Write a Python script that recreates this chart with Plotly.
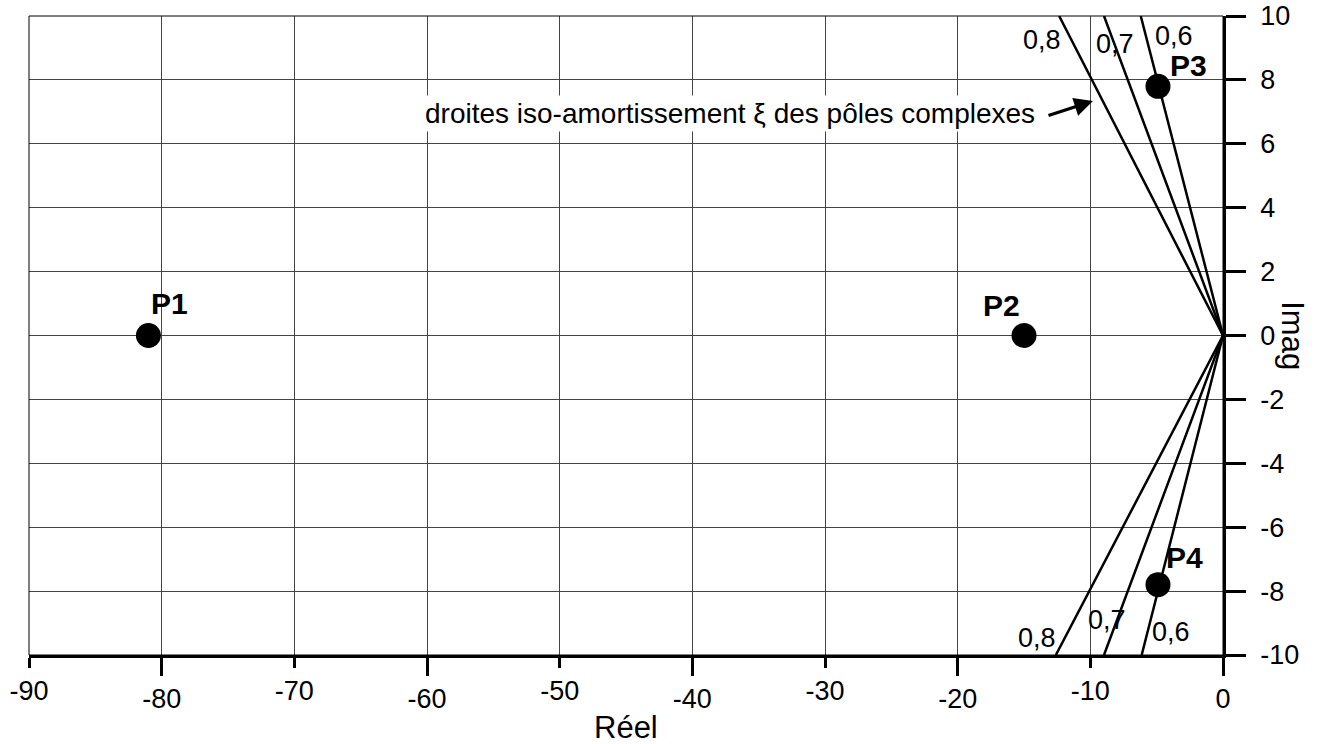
import plotly.graph_objects as go

# ---- data ----
pole_names = ["P1", "P2", "P3", "P4"]
pole_re = [-81.0, -15.0, -4.9, -4.9]
pole_im = [0.0, 0.0, 7.8, -7.8]

xi_labels = ["0,8", "0,7", "0,6"]
xi_top_re = [-12.35, -8.97, -6.2]      # real part where each iso-damping line meets Im = +10
xi_bot_re = [-12.6, -8.97, -6.13]      # real part where each iso-damping line meets Im = -10
xi_im_edge = 10.0

x_ticks_a = [-90, -70, -50, -30, -10]
x_text_a = ["-90", "-70", "-50", "-30", "-10"]
x_ticks_b = [-80, -60, -40, -20, 0]
x_text_b = ["-80", "-60", "-40", "-20", "0"]
y_ticks = [-10, -8, -6, -4, -2, 0, 2, 4, 6, 8, 10]
y_text = ["-10", "-8", "-6", "-4", "-2", "0", "2", "4", "6", "8", "10"]

annot_text = "droites iso-amortissement \u03be des pôles complexes"

FONT = "Liberation Sans, Arial, sans-serif"
GRID = "#444444"

fig = go.Figure()

# iso-damping lines
for lab, xt, xb in zip(xi_labels, xi_top_re, xi_bot_re):
    fig.add_trace(go.Scatter(
        x=[xt, 0, xb], y=[xi_im_edge, 0, -xi_im_edge], mode="lines",
        line=dict(color="black", width=2.5), hoverinfo="skip", showlegend=False))

# poles
fig.add_trace(go.Scatter(
    x=pole_re, y=pole_im, mode="markers",
    marker=dict(color="black", size=25, symbol="circle"),
    showlegend=False, hoverinfo="skip"))

# dummy trace to instantiate second x axis
fig.add_trace(go.Scatter(x=[-90], y=[-10], xaxis="x2", mode="markers",
                         marker=dict(opacity=0), showlegend=False, hoverinfo="skip"))

annotations = []
# pole labels (pixel offsets from each pole)
pole_shift = {"P1": (21, 32), "P2": (-23, 30), "P3": (31, 21), "P4": (27, 27)}
for n, xr, yi in zip(pole_names, pole_re, pole_im):
    dx, dy = pole_shift[n]
    annotations.append(dict(x=xr, y=yi, text="<b>%s</b>" % n, showarrow=False,
                            xshift=dx, yshift=dy,
                            font=dict(family=FONT, size=30, color="black")))

# iso-damping labels
top_pos = [(-13.64, 9.25), (-8.14, 9.12), (-3.7, 9.37)]
bot_pos = [(-14.02, -9.47), (-8.75, -8.9), (-3.92, -9.28)]
for lab, (tx, ty), (bx, by) in zip(xi_labels, top_pos, bot_pos):
    for px, py in ((tx, ty), (bx, by)):
        annotations.append(dict(x=px, y=py, text=lab, showarrow=False,
                                font=dict(family=FONT, size=27, color="black")))

# callout text and its arrow
annotations.append(dict(x=-13.95, y=6.96, text=annot_text, showarrow=False,
                        xanchor="right", yanchor="middle",
                        bgcolor="white", borderpad=2,
                        font=dict(family=FONT, size=28, color="black")))
annotations.append(dict(x=-9.8, y=7.34, text="", showarrow=True,
                        ax=-46, ay=15, arrowhead=2, arrowsize=1.1, arrowwidth=3.4,
                        arrowcolor="black"))

# axis titles
annotations.append(dict(x=0.5, y=-0.114, xref="paper", yref="paper", text="Réel",
                        xanchor="center", yanchor="middle",
                        showarrow=False, font=dict(family=FONT, size=31, color="black")))
annotations.append(dict(x=1.058, y=0.5, xref="paper", yref="paper", text="Imag",
                        xanchor="center", yanchor="middle",
                        textangle=90, showarrow=False,
                        font=dict(family=FONT, size=31, color="black")))

common_x = dict(range=[-90, 0], showgrid=True, gridcolor=GRID, gridwidth=1,
                zeroline=False, ticks="outside", tickwidth=2.5, tickcolor="black",
                automargin=False,
                tickfont=dict(family=FONT, size=27, color="black"))

fig.update_layout(
    width=1317, height=744,
    margin=dict(l=29, r=94, t=16, b=89, autoexpand=False),
    paper_bgcolor="white", plot_bgcolor="white",
    xaxis=dict(**common_x, tickmode="array", tickvals=x_ticks_a, ticktext=x_text_a,
               ticklen=10, showline=True, linewidth=2.5, linecolor="black"),
    xaxis2=dict(**common_x, tickmode="array", tickvals=x_ticks_b, ticktext=x_text_b,
                ticklen=20, overlaying="x", anchor="y", side="bottom", showline=False),
    yaxis=dict(range=[-10, 10], side="right", tickmode="array", tickvals=y_ticks,
               ticktext=y_text, ticks="outside", ticklen=20, tickwidth=2.5,
               tickcolor="black", showline=True, linewidth=2.5, linecolor="black",
               showgrid=True, gridcolor=GRID, gridwidth=1, zeroline=False,
               automargin=False, ticklabelstandoff=9,
               tickfont=dict(family=FONT, size=27, color="black")),
    shapes=[dict(type="rect", xref="paper", yref="paper", x0=0, x1=1, y0=0, y1=1,
                 line=dict(color="black", width=1), layer="above")],
    annotations=annotations,
    showlegend=False,
)

fig.write_html("out.html")
